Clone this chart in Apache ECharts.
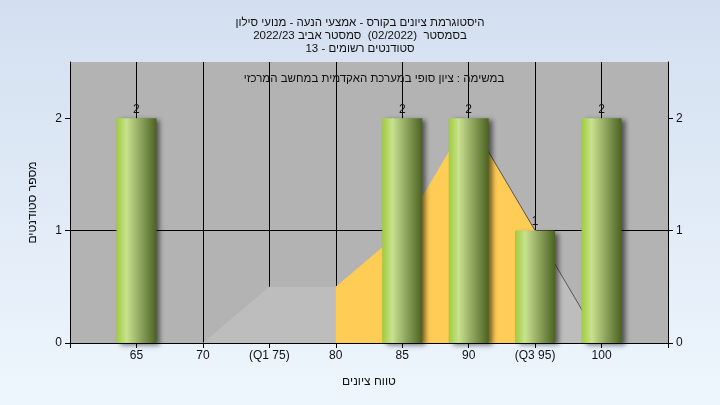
<!DOCTYPE html>
<html>
<head>
<meta charset="utf-8">
<script src="https://cdn.jsdelivr.net/npm/echarts@6/dist/echarts.min.js"></script>
<style>
html,body{margin:0;padding:0;}
#c{width:720px;height:405px;}
</style>
</head>
<body>
<div id="c"></div>
<script>
// ---- data ----
const titleLines = [
  'היסטוגרמת ציונים בקורס - אמצעי הנעה - מנועי סילון',
  'בסמסטר  (02/2022)  סמסטר אביב 2022/23',
  'סטודנטים רשומים - 13'
];
const subTitle = 'במשימה : ציון סופי במערכת האקדמית במחשב המרכזי';
const xName = 'טווח ציונים';
const yName = 'מספר סטודנטים';
const gradeValues = [65, 70, 75, 80, 85, 90, 95, 100];
const gradeLabels = ['65', '70', '(Q1 75)', '80', '85', '90', '(Q3 95)', '100'];
const studentCounts = [2, 0, 0, 0, 2, 2, 1, 2];
const curveValues = [0, 0, 0.5, 0.5, 1, 2, 1, 0];
const highlightFrom = 80, highlightTo = 95;
const lineFrom = 90;

// ---- build ----
const labelMap = {};
gradeValues.forEach((g, i) => labelMap[g] = gradeLabels[i]);
const barData = gradeValues.map((g, i) => [g, studentCounts[i]]).filter(d => d[1] > 0);
const curveData = gradeValues.map((g, i) => [g, curveValues[i]]);
const yellowData = curveData.filter(d => d[0] >= highlightFrom && d[0] <= highlightTo);
const lineData = curveData.filter(d => d[0] >= lineFrom);

const font = 'Liberation Sans, DejaVu Sans, Arial, sans-serif';
const txt = '#111';

const chart = echarts.init(document.getElementById('c'), null, {renderer: 'canvas'});
const yAxisBase = {
  type: 'value', min: 0, max: 2.5, interval: 1,
  axisLine: {show: true, lineStyle: {color: '#000', width: 1}},
  axisTick: {show: true, length: 5, lineStyle: {color: '#000'}, customValues: [0, 1, 2]},
  axisLabel: {color: txt, fontSize: 12, fontFamily: font, margin: 8,
    formatter: v => Number.isInteger(v) ? String(v) : ''},
  splitLine: {show: false}
};
chart.setOption({
  animation: false,
  backgroundColor: new echarts.graphic.LinearGradient(0, 0, 0, 1, [
    {offset: 0, color: '#d3dff0'}, {offset: 1, color: '#eef6fd'}
  ]),
  title: [{
    text: titleLines.join('\n'),
    left: 'center', top: 11,
    textStyle: {fontSize: 11.5, fontWeight: 'normal', color: txt, fontFamily: font, lineHeight: 13, align: 'center'}
  }, {
    text: subTitle,
    left: 369, textAlign: 'center', top: 68,
    textStyle: {fontSize: 11.5, fontWeight: 'normal', color: txt, fontFamily: font}
  }],
  grid: {left: 70, right: 52, top: 62, bottom: 62, show: true, backgroundColor: '#b3b3b3', borderWidth: 0},
  xAxis: {
    type: 'value', min: 60, max: 105, interval: 5,
    name: xName, nameLocation: 'middle', nameGap: 33,
    nameTextStyle: {color: txt, fontSize: 12, fontFamily: font},
    axisLine: {show: true, onZero: false, lineStyle: {color: '#000', width: 1}},
    axisTick: {show: true, length: 5, lineStyle: {color: '#000'}},
    axisLabel: {color: txt, fontSize: 12, fontFamily: font, margin: 7,
      formatter: v => labelMap[v] !== undefined ? labelMap[v] : ''},
    splitLine: {show: true, lineStyle: {color: '#000', width: 1}}
  },
  yAxis: [
    Object.assign({}, yAxisBase, {
      position: 'left',
      name: yName, nameLocation: 'middle', nameGap: 31,
      nameTextStyle: {color: txt, fontSize: 12, fontFamily: font},
      splitLine: {show: true, showMaxLine: false, lineStyle: {color: '#000', width: 1}}
    }),
    Object.assign({}, yAxisBase, {position: 'right'})
  ],
  series: [
    {
      type: 'line', data: curveData, symbol: 'none', z: 1,
      lineStyle: {width: 0},
      areaStyle: {color: '#bdbdbd', opacity: 1}
    },
    {
      type: 'line', data: yellowData, symbol: 'none', z: 2,
      lineStyle: {width: 0},
      areaStyle: {color: '#ffcc55', opacity: 1}
    },
    {
      type: 'line', data: lineData, symbol: 'none', z: 3,
      lineStyle: {width: 1, color: '#555'}
    },
    {
      type: 'bar', data: barData, barWidth: 40, z: 5,
      itemStyle: {
        color: new echarts.graphic.LinearGradient(0, 0, 1, 0, [
          {offset: 0, color: '#9fcb3c'},
          {offset: 0.25, color: '#c8e28e'},
          {offset: 0.55, color: '#97ad66'},
          {offset: 1, color: '#4a6320'}
        ]),
        shadowColor: 'rgba(0,0,0,0.55)', shadowBlur: 5, shadowOffsetX: 4, shadowOffsetY: 2
      },
      label: {show: true, position: 'top', distance: 3, color: txt, fontSize: 12, fontFamily: font,
        formatter: p => String(p.value[1])}
    }
  ]
});
</script>
</body>
</html>
